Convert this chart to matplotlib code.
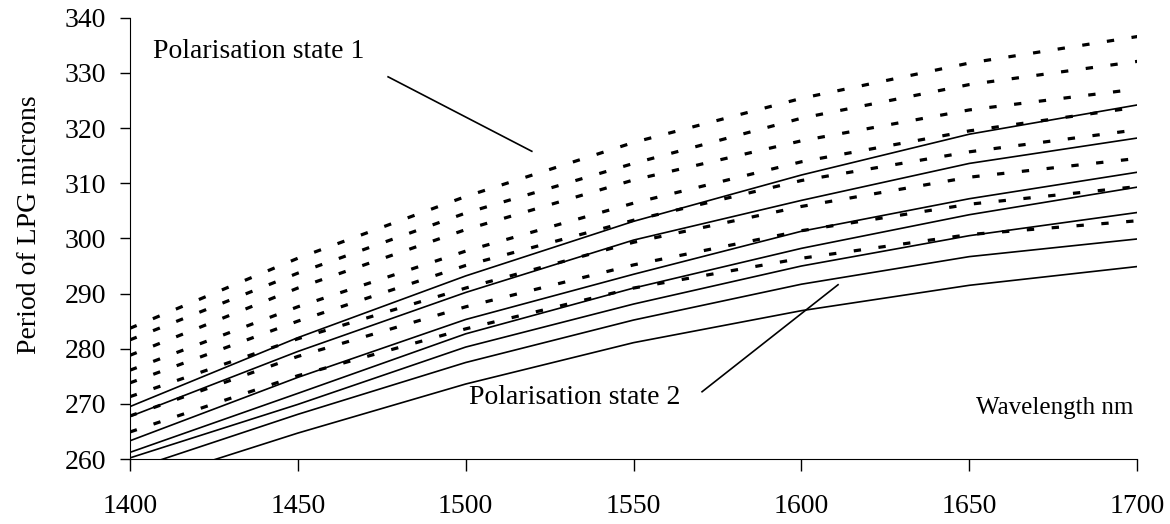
import matplotlib.pyplot as plt

wavelength = [1400, 1450, 1500, 1550, 1600, 1650, 1700]

# polarisation state 1 (dotted)
state1 = [
    [283.7, 296.4, 307.6, 317.4, 325.4, 331.8, 336.6],
    [281.6, 293.7, 304.6, 313.6, 321.8, 327.9, 332.1],
    [278.8, 291.0, 301.6, 310.6, 317.7, 323.3, 327.1],
    [276.1, 287.6, 297.7, 306.4, 313.9, 319.5, 323.8],
    [273.8, 285.0, 295.1, 303.3, 310.5, 315.7, 319.7],
    [271.3, 281.8, 291.0, 299.3, 305.8, 311.1, 314.5],
    [267.8, 278.6, 287.6, 295.2, 301.4, 306.2, 309.4],
    [264.9, 275.1, 283.6, 291.0, 296.4, 300.7, 303.2],
]

# polarisation state 2 (solid)
state2 = [
    [269.5, 282.0, 293.2, 303.1, 311.5, 318.9, 324.2],
    [267.7, 279.5, 290.2, 299.7, 306.9, 313.6, 318.2],
    [263.3, 274.8, 285.3, 293.5, 301.3, 307.2, 312.0],
    [261.2, 271.9, 282.7, 291.0, 298.2, 304.3, 309.3],
    [260.2, 269.9, 280.3, 288.1, 295.0, 300.5, 304.7],
    [258.0, 268.1, 277.5, 285.2, 291.7, 296.7, 299.9],
    [255.0, 264.7, 273.6, 281.1, 286.9, 291.5, 294.9],
]

plt.rcParams['font.family'] = ['Liberation Serif', 'DejaVu Serif']
plt.rcParams['font.size'] = 20

fig = plt.figure(figsize=(11.7, 5.24), dpi=100)
ax = fig.add_axes([0.111, 0.124, 0.861, 0.842])

for s in state2:
    ax.plot(wavelength, s, color='black', lw=1.2)
for s in state1:
    ax.plot(wavelength, s, color='black', lw=2.3, linestyle=(0, (2.3, 5.5)))

ax.set_xlim(1400, 1700)
ax.set_ylim(260, 340)
ax.set_xticks(range(1400, 1701, 50))
ax.set_yticks(range(260, 341, 10))
ax.spines['top'].set_visible(False)
ax.spines['right'].set_visible(False)
ax.tick_params(axis='x', direction='out', length=8.5, width=1, pad=17)
ax.tick_params(axis='y', direction='out', length=7, width=1, pad=10)
ax.set_ylabel('Period of LPG microns', labelpad=14)
ax.yaxis.set_label_coords(-0.087, 0.53)

ax.text(1406.9, 332.8, 'Polarisation state 1', va='baseline', ha='left')
ax.plot([1476.9, 1519.7], [329.3, 315.8], color='black', lw=1.2)
ax.text(1501, 270.0, 'Polarisation state 2', va='baseline', ha='left')
ax.plot([1570.4, 1610.9], [272.2, 291.6], color='black', lw=1.2)
ax.text(1698.8, 268.2, 'Wavelength nm', va='baseline', ha='right', fontsize=18)

fig.savefig('out.png', dpi=100)
